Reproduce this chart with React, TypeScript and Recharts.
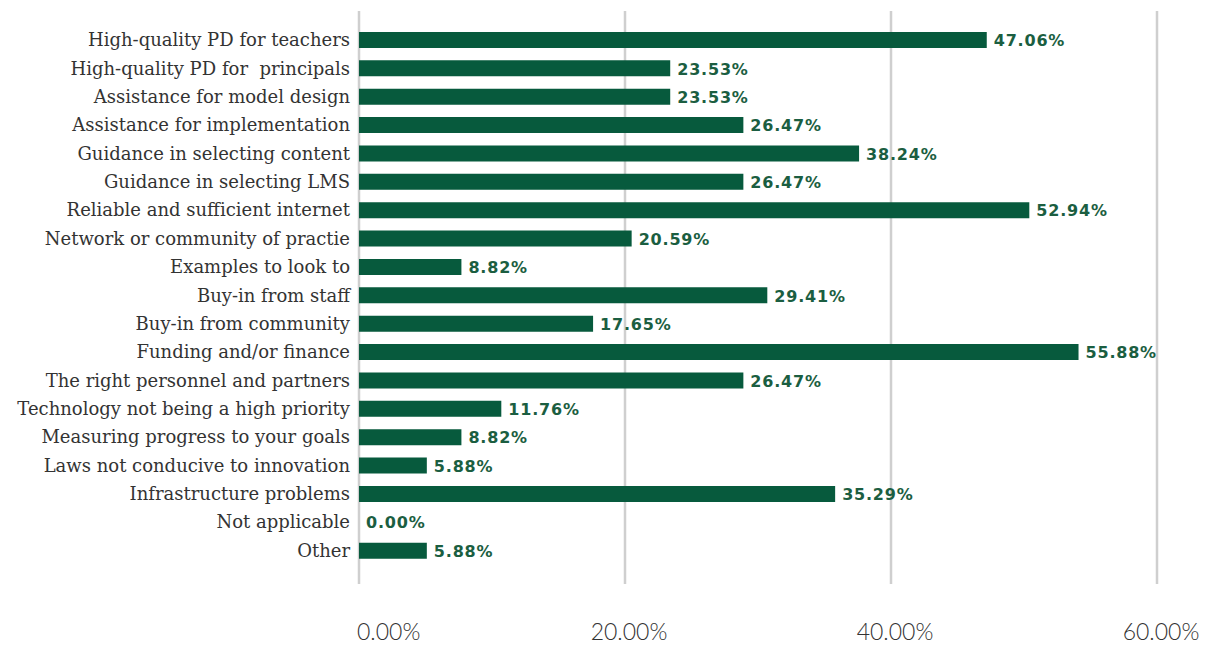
import React from "react";
import { ComposedChart, Bar, Line, XAxis, YAxis, CartesianGrid, LabelList } from "recharts";

const categories = [
  "High-quality PD for teachers",
  "High-quality PD for  principals",
  "Assistance for model design",
  "Assistance for implementation",
  "Guidance in selecting content",
  "Guidance in selecting LMS",
  "Reliable and sufficient internet",
  "Network or community of practie",
  "Examples to look to",
  "Buy-in from staff",
  "Buy-in from community",
  "Funding and/or finance",
  "The right personnel and partners",
  "Technology not being a high priority",
  "Measuring progress to your goals",
  "Laws not conducive to innovation",
  "Infrastructure problems",
  "Not applicable",
  "Other",
];

// bar lengths as drawn in the picture (percent)
const barValues = [
  47.2, 23.4, 23.4, 28.9, 37.6, 28.9, 50.4, 20.5, 7.7, 30.7, 17.6,
  54.1, 28.9, 10.7, 7.7, 5.1, 35.8, 0.0, 5.1,
];

// value labels as printed in the picture
const valueLabels = [
  "47.06%", "23.53%", "23.53%", "26.47%", "38.24%", "26.47%", "52.94%",
  "20.59%", "8.82%", "29.41%", "17.65%", "55.88%", "26.47%", "11.76%",
  "8.82%", "5.88%", "35.29%", "0.00%", "5.88%",
];

const xTicks = [0, 20, 40, 60];

const data = categories.map((c, i) => ({
  name: c,
  value: barValues[i],
  label: valueLabels[i],
}));

const BAR = "#075A3D";
const LABEL = "#1B5E41";

const XTick = (props: any) => {
  const { x, y, payload, index } = props;
  const first = index === 0;
  return (
    <text
      x={first ? x - 2 : x + 4}
      y={y + 56}
      textAnchor={first ? "start" : "middle"}
      fill="#333"
      fontFamily="Lato, 'Open Sans', sans-serif"
      fontWeight={300}
      fontSize={23}
    >
      {Number(payload.value).toFixed(2) + "%"}
    </text>
  );
};

const YTick = (props: any) => {
  const { x, y, payload } = props;
  return (
    <text
      x={x}
      y={y}
      dy={6}
      textAnchor="end"
      fill="#333"
      fontFamily="'DejaVu Serif', serif"
      fontSize={18}
      style={{ whiteSpace: "pre" }}
    >
      {payload.value}
    </text>
  );
};

const ValueLabel = (props: any) => {
  const { x, y, value } = props;
  return (
    <text
      x={Number(x) + 7}
      y={Number(y)}
      dy={6}
      textAnchor="start"
      fill={LABEL}
      fontFamily="'DejaVu Sans', sans-serif"
      fontWeight={700}
      fontSize={16}
      style={{ letterSpacing: "0.8px" }}
    >
      {value}
    </text>
  );
};

export default function App() {
  return (
    <div style={{ width: 1200, height: 636, background: "#fff" }}>
      <ComposedChart
        width={1200}
        height={636}
        data={data}
        layout="vertical"
        margin={{ top: 3, right: 51, bottom: 0, left: 0 }}
        barCategoryGap={0}
      >
        <CartesianGrid
          horizontal={false}
          vertical={true}
          stroke="#cfcfcf"
          strokeWidth={2.5}
        />
        <XAxis
          type="number"
          domain={[0, 60]}
          ticks={xTicks}
          axisLine={false}
          tickLine={false}
          tickSize={0}
          tickMargin={0}
          height={60}
          tick={<XTick />}
          interval={0}
        />
        <YAxis
          type="category"
          dataKey="name"
          width={351}
          axisLine={false}
          tickLine={false}
          tickSize={0}
          tickMargin={9}
          interval={0}
          padding={{ top: 15, bottom: 19 }}
          tick={<YTick />}
        />
        <Bar dataKey="value" fill={BAR} barSize={16} isAnimationActive={false} />
        <Line
          dataKey="value"
          stroke="none"
          dot={false}
          activeDot={false}
          legendType="none"
          isAnimationActive={false}
        >
          <LabelList dataKey="label" content={<ValueLabel />} />
        </Line>
      </ComposedChart>
    </div>
  );
}
